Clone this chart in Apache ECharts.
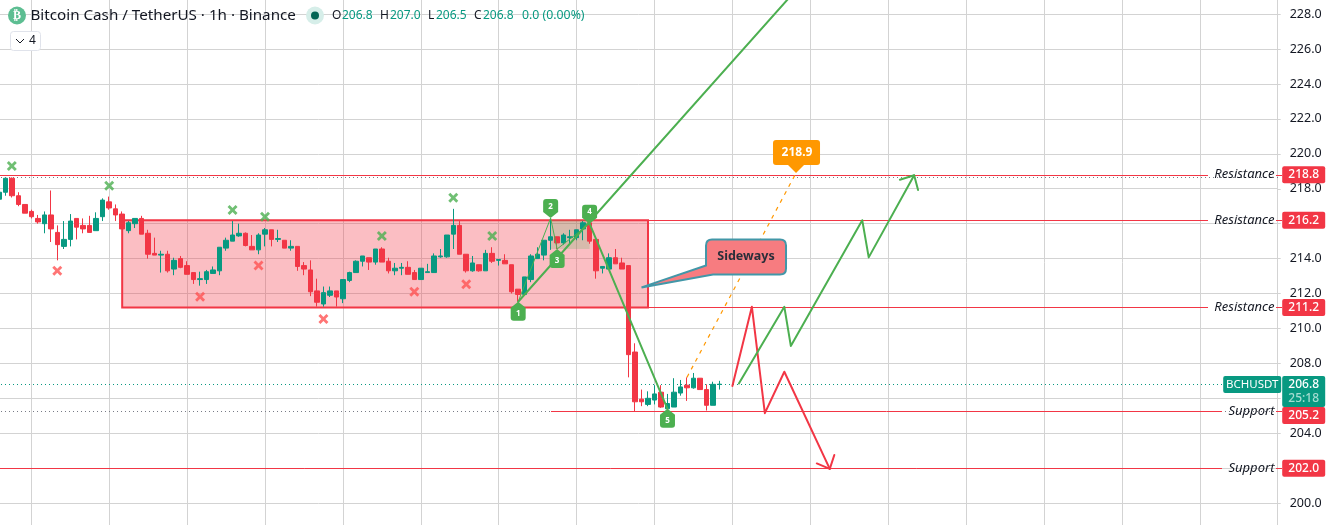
<!DOCTYPE html>
<html>
<head>
<meta charset="utf-8">
<style>html,body{margin:0;padding:0;background:#fff}#c{width:1333px;height:525px}</style>
<script src="https://cdn.jsdelivr.net/npm/echarts@6/dist/echarts.min.js"></script>
</head>
<body>
<div id="c"></div>
<script>
const firstHour = 7;
// [open, close, low, high] per hourly candle
const ohlc = [
[217.4,217.8,217.2,217.8],[217.8,218.6,217.6,218.6],[218.6,217.6,217.5,218.65],[217.6,217.1,217.0,217.8],
[217.1,216.6,216.6,217.1],[216.7,216.4,216.3,216.8],[216.3,216.1,216.0,216.5],[216.0,216.5,215.45,216.7],
[216.5,215.7,214.95,217.9],[215.5,214.8,213.9,215.9],[214.7,215.1,214.55,216.15],[215.1,216.15,214.7,216.55],
[216.3,215.8,215.1,216.3],[215.9,215.7,215.45,216.3],[215.9,215.5,215.5,216.45],[215.6,216.3,215.6,216.65],
[216.4,217.35,216.15,217.45],[217.25,216.9,216.8,217.55],[216.85,216.5,216.15,217.1],[216.55,215.7,215.7,216.7],
[215.6,216.05,215.45,216.15],[216.0,216.3,215.75,216.3],[216.3,215.4,215.4,216.45],[215.45,214.25,214.0,215.65],
[214.3,214.2,214.2,215.2],[214.2,214.25,213.2,214.45],[214.25,213.3,213.2,214.45],[213.4,213.9,213.05,214.05],
[214.0,213.5,213.45,214.15],[213.6,213.1,213.1,213.85],[213.2,212.8,212.55,213.2],[212.8,212.85,212.45,213.25],
[212.8,213.25,212.55,213.35],[213.15,213.35,213.15,213.55],[213.3,214.65,213.05,214.65],[214.6,215.05,214.45,215.2],
[215.0,215.35,215.0,216.15],[215.3,215.45,215.25,216.0],[215.45,214.75,214.7,215.5],[214.7,214.5,214.5,215.35],
[214.5,215.35,214.25,215.45],[215.4,215.65,214.7,215.75],[215.65,215.1,214.7,215.65],[215.1,215.15,214.95,215.65],
[215.05,214.6,214.6,215.05],[214.6,214.7,214.45,215.05],[214.7,213.55,213.3,214.7],[213.6,213.4,213.05,213.8],
[213.35,212.1,211.85,213.9],[212.15,211.5,211.25,212.85],[211.4,212.05,211.25,212.4],[211.9,212.15,211.8,212.4],
[212.15,211.8,211.25,212.15],[211.7,212.8,211.45,212.8],[212.75,213.2,212.65,213.25],[213.2,213.85,213.2,213.9],
[213.85,214.15,213.55,214.15],[214.05,213.8,213.35,214.05],[213.8,214.55,213.65,214.55],[214.55,213.8,213.8,214.65],
[213.85,213.3,213.15,214.05],[213.3,213.45,213.05,213.75],[213.45,213.5,213.05,213.75],[213.5,213.1,213.1,213.85],
[213.2,212.8,212.8,213.35],[212.8,213.45,212.8,213.45],[213.2,213.25,213.2,213.7],[213.2,214.15,213.2,214.3],
[214.1,214.15,214.05,214.55],[214.1,215.35,214.05,215.35],[215.4,215.9,214.55,216.85],[215.9,214.25,214.25,216.15],
[214.25,213.3,213.2,214.25],[213.3,213.75,213.25,214.15],[213.65,213.3,213.25,213.65],[213.3,214.3,213.3,214.5],
[214.3,213.85,213.75,214.65],[213.9,213.95,213.6,213.95],[213.9,213.7,213.7,214.25],[213.65,212.1,212.0,213.65],
[212.25,211.95,211.55,212.25],[211.95,212.95,211.95,212.95],[212.8,214.15,212.65,214.25],[214.0,214.25,214.0,214.65],
[214.2,215.05,213.9,215.05],[215.05,215.25,214.5,216.3],[215.25,214.9,214.55,215.25],[214.9,215.35,214.8,215.45],
[215.2,215.25,214.85,215.65],[215.2,215.65,215.05,215.65],[215.7,216.05,215.05,216.15],[216.05,215.0,214.85,216.05],
[215.1,213.3,212.85,215.1],[213.45,213.55,213.15,213.55],[213.4,214.05,213.4,214.3],[214.05,213.7,213.7,214.55],
[213.75,213.4,213.4,214.05],[213.6,208.5,207.2,213.6],[208.65,205.8,205.25,209.15],[205.95,205.8,205.55,206.5],
[205.65,206.0,205.55,206.4],[205.9,206.25,205.65,206.75],[206.35,205.5,205.45,206.75],[205.4,205.7,205.4,206.25],
[205.5,206.35,205.5,207.15],[206.3,206.65,206.15,207.05],[206.75,206.6,205.85,207.2],[206.6,207.15,206.55,207.45],
[207.15,206.5,206.5,207.15],[206.5,205.6,205.3,206.8],[205.6,206.8,205.6,206.95],[206.8,206.8,206.5,207.0]
];
const candleData = ohlc.map((r, i) => [firstHour + i, r[0], r[1], r[2], r[3]]);

const priceMin = 198, priceMax = 230, priceStep = 2;
const hourMin = 0, hourMax = 204, hourStep = 12;

const greenMarks = [[9,219.3],[24,218.17],[43,216.78],[48,216.4],[66,215.29],[77,217.49],[83,215.29]];
const redMarks = [[16,213.3],[38,211.82],[47,213.61],[57,210.54],[71,212.1],[79,212.53]];

const sidewaysBox = [[26,216.2,107,211.2]];
const patternZone = [[92,216.2,98,214.55]];

const waveTips = [[87,211.53],[92,216.32],[93,214.55],[98,216.0],[110,205.4]];
const waveUp = ['1','','3','','5'];
const waveNames = ['1','2','3','4','5'];
const waveThin = [[87,211.53],[92,216.32],[93,214.55],[98,216.0]];
const trendUp = [[87,211.53],[131,229.88]];
const trendDown = [[98,216.0],[110,205.4]];
const targetDash = [[113,207.2],[129.8,218.9]];
const targetPoint = [[129.8,218.9]];
const targetText = '218.9';
const redPath = [[120,206.7],[123,211.24],[125,205.15],[128,207.52],[135,201.96]];
const redHead = [[133,202.27],[135,201.96],[135.7,202.75]];
const greenPath = [[121,206.85],[128,211.24],[129,209.0],[140,216.2],[141,214.07],[148,218.77]];
const greenHead = [[145.8,218.52],[148,218.77],[148.6,217.93]];
const calloutTip = [[106,212.35]];

const levelPrices = [218.8,216.2,211.2,205.25,202.0];
const levelNames = ['Resistance','Resistance','Resistance','Support','Support'];
const levelStart = [0,107,107,92,0];
const levelGap = [193.3,193.3,193.3,195.4,195.4];
const tagCenters = [218.8,216.2,211.2,205.02,202.0];
const tagTexts = ['218.8','216.2','211.2','205.2','202.0'];
const lastPrice = 206.8, lastClock = '25:18', symbolName = 'BCHUSDT';
const dottedGrey = [218.65,205.25];

const RED = '#F23645', GREEN = '#089981', LINEGREEN = '#4CAF50', ORANGE = '#FF9800';
const FONT = '"Noto Sans", sans-serif';

function lineSeries(data, color, width, z, type) {
  return { type:'line', data, showSymbol:false, symbol:'none', clip:false, z, silent:true,
    lineStyle:{ color, width, type:type||'solid', cap:type?'butt':'round', join:'round' }, emphasis:{disabled:true} };
}
// one horizontal rule per row [xFrom, xTo, price], snapped to the pixel grid
function ruleSeries(rows, color, dash) {
  return { type:'custom', z:2, clip:false, silent:true, data:rows, encode:{x:[0,1],y:2},
    renderItem(p, api){
      const a = api.coord([api.value(0),api.value(2)]), b = api.coord([api.value(1),api.value(2)]);
      const y = Math.floor(a[1]+0.3)+0.5;
      return { type:'line', shape:{x1:Math.round(a[0]),y1:y,x2:Math.round(b[0]),y2:y}, style:{ stroke:color, lineWidth:1, lineDash:dash||null } };
    }};
}

const series = [];
// shaded boxes
series.push({ type:'custom', z:1, clip:false, silent:true, data:sidewaysBox, encode:{x:[0,2],y:[1,3]},
  renderItem(p, api){
    const a = api.coord([api.value(0),api.value(1)]), b = api.coord([api.value(2),api.value(3)]);
    return { type:'rect', shape:{x:a[0],y:a[1],width:b[0]-a[0],height:b[1]-a[1]},
      style:{ fill:'rgba(242,54,69,0.32)', stroke:RED, lineWidth:2 } };
  }});
series.push({ type:'custom', z:1, clip:false, silent:true, data:patternZone, encode:{x:[0,2],y:[1,3]},
  renderItem(p, api){
    const a = api.coord([api.value(0),api.value(1)]), b = api.coord([api.value(2),api.value(3)]);
    return { type:'rect', shape:{x:a[0],y:a[1],width:b[0]-a[0],height:b[1]-a[1]},
      style:{ fill:'rgba(76,175,80,0.2)' } };
  }});
// dotted price lines
series.push(ruleSeries(dottedGrey.map(p=>[hourMin,hourMax,p]), '#787b86', [1,3]));
series.push(ruleSeries([[hourMin,195.4,lastPrice]], GREEN, [1,3]));
// level lines
series.push(ruleSeries(levelPrices.map((p,i)=>[levelStart[i],levelGap[i],p]), RED));
series.push(ruleSeries(levelPrices.map(p=>[203.8,204.7,p]), RED));
// candles
series.push({ type:'candlestick', data:candleData, encode:{x:0,y:[1,2,3,4]}, barWidth:5, z:3, clip:false, silent:true,
  itemStyle:{ color:GREEN, color0:RED, borderColor:GREEN, borderColor0:RED, borderColorDoji:GREEN, borderWidth:1 } });
// drawings
series.push(lineSeries(waveThin, LINEGREEN, 1, 4));
series.push(lineSeries(trendUp, LINEGREEN, 2, 4));
series.push(lineSeries(trendDown, LINEGREEN, 2, 4));
series.push(lineSeries(targetDash, ORANGE, 1.2, 4, [4,5]));
series.push(lineSeries(redPath, RED, 2, 4));
series.push(lineSeries(redHead, RED, 2, 4));
series.push(lineSeries(greenPath, LINEGREEN, 2, 4));
series.push(lineSeries(greenHead, LINEGREEN, 2, 4));
// cross marks
const crossPath = 'path://M2 0L5 3L8 0L10 2L7 5L10 8L8 10L5 7L2 10L0 8L3 5L0 2Z';
series.push({ type:'scatter', data:greenMarks, symbol:crossPath, symbolSize:10, z:5, clip:false, silent:true, itemStyle:{color:LINEGREEN} });
series.push({ type:'scatter', data:redMarks, symbol:crossPath, symbolSize:10, z:5, clip:false, silent:true, itemStyle:{color:'#FF5252'} });
// wave labels
series.push({ type:'custom', z:6, clip:false, silent:true, data:waveTips,
  renderItem(p, api){
    const c = api.coord([api.value(0),api.value(1)]);
    const i = p.dataIndex, up = waveUp[i] !== '', s = up ? 1 : -1, h = 19, w = 7.5;
    const x = c[0], y = c[1];
    const d = `M${x} ${y}L${x+w} ${y+s*6}L${x+w} ${y+s*(h-3)}Q${x+w} ${y+s*h} ${x+w-3} ${y+s*h}L${x-w+3} ${y+s*h}Q${x-w} ${y+s*h} ${x-w} ${y+s*(h-3)}L${x-w} ${y+s*6}Z`;
    return { type:'group', children:[
      { type:'path', shape:{pathData:d}, style:{fill:LINEGREEN} },
      { type:'text', style:{ x, y:y+s*11.5, text:waveNames[i], fill:'#fff', font:'bold 8px '+FONT, align:'center', verticalAlign:'middle' } }
    ]};
  }});
// target label
series.push({ type:'custom', z:6, clip:false, silent:true, data:targetPoint,
  renderItem(p, api){
    const c = api.coord([api.value(0),api.value(1)]);
    const x = c[0], y = c[1], L = x-23, R = x+24, T = y-33, B = y-8;
    const d = `M${x} ${y}L${x-8} ${B}L${L+3} ${B}Q${L} ${B} ${L} ${B-3}L${L} ${T+3}Q${L} ${T} ${L+3} ${T}L${R-3} ${T}Q${R} ${T} ${R} ${T+3}L${R} ${B-3}Q${R} ${B} ${R-3} ${B}L${x+8} ${B}Z`;
    return { type:'group', children:[
      { type:'path', shape:{pathData:d}, style:{fill:ORANGE} },
      { type:'text', style:{ x:x+1, y:(T+B)/2, text:targetText, fill:'#fff', font:'bold 12px '+FONT, align:'center', verticalAlign:'middle' } }
    ]};
  }});
// callout
series.push({ type:'custom', z:6, clip:false, silent:true, data:calloutTip,
  renderItem(p, api){
    const c = api.coord([api.value(0),api.value(1)]);
    const x = c[0], y = c[1], L = x+64.5, R = x+144.5, T = y-48, B = y-13;
    const d = `M${x} ${y}L${L} ${y-22}L${L} ${T+6}Q${L} ${T} ${L+6} ${T}L${R-6} ${T}Q${R} ${T} ${R} ${T+6}L${R} ${B-6}Q${R} ${B} ${R-6} ${B}L${L+7} ${B}Z`;
    return { type:'group', children:[
      { type:'path', shape:{pathData:d}, style:{fill:'#F77C80', stroke:'#4297A8', lineWidth:2} },
      { type:'text', style:{ x:(L+R)/2, y:(T+B)/2, text:'Sideways', fill:'#2a2e39', font:'bold 12.5px '+FONT, align:'center', verticalAlign:'middle' } }
    ]};
  }});
// level names
series.push({ type:'custom', z:7, clip:false, silent:true, data:levelPrices.map(p=>[203.5,p]),
  renderItem(p, api){
    const c = api.coord([api.value(0),api.value(1)]);
    return { type:'text', style:{ x:c[0], y:c[1], text:levelNames[p.dataIndex], fill:'#131722', font:'italic 13px '+FONT, align:'right', verticalAlign:'middle' } };
  }});
// price tags on the axis
series.push({ type:'custom', z:10, clip:false, silent:true, data:tagCenters.map(p=>[hourMax,p]),
  renderItem(p, api){
    const c = api.coord([api.value(0),api.value(1)]);
    const x = c[0]+4.5, y = c[1];
    return { type:'group', children:[
      { type:'rect', shape:{x, y:y-8.5, width:43, height:17, r:2}, style:{fill:RED} },
      { type:'text', style:{ x:x+21.5, y:y, text:tagTexts[p.dataIndex], fill:'#fff', font:'500 12px '+FONT, align:'center', verticalAlign:'middle' } }
    ]};
  }});
series.push({ type:'custom', z:9, clip:false, silent:true, data:[[hourMax,lastPrice]],
  renderItem(p, api){
    const c = api.coord([api.value(0),api.value(1)]);
    const x = c[0], y = c[1];
    return { type:'group', children:[
      { type:'rect', shape:{x:x-54.5, y:y-8.3, width:58, height:17, r:2}, style:{fill:GREEN} },
      { type:'text', style:{ x:x-25.5, y:y+0.2, text:symbolName, fill:'#fff', font:'11.5px '+FONT, align:'center', verticalAlign:'middle' } },
      { type:'rect', shape:{x:x+4.5, y:y-8.3, width:43, height:31, r:2}, style:{fill:GREEN} },
      { type:'text', style:{ x:x+26, y:y+0.2, text:lastPrice.toFixed(1), fill:'#fff', font:'500 12px '+FONT, align:'center', verticalAlign:'middle' } },
      { type:'text', style:{ x:x+26, y:y+14.5, text:lastClock, fill:'#a5dcd1', font:'500 12px '+FONT, align:'center', verticalAlign:'middle' } }
    ]};
  }});

const gridColor = '#d3d3d3';
const chart = echarts.init(document.getElementById('c'), null, {renderer:'canvas'});
const hdrY = 15.5, hdrFont = '15.2px '+FONT, valFont = '12px '+FONT;
function hdr(x, text, fill, font){ return { type:'text', x, y:hdrY, z:20, style:{ text, fill, font, verticalAlign:'middle' } }; }
chart.setOption({
  animation:false,
  backgroundColor:'#ffffff',
  grid:{ left:-46.6, top:-20.8, width:1324.3, height:558.8, containLabel:false, outerBoundsMode:'none' },
  xAxis:{ type:'value', min:hourMin, max:hourMax, interval:hourStep, axisLabel:{show:false}, axisTick:{show:false}, axisLine:{show:false},
    splitLine:{show:true, lineStyle:{color:gridColor, width:1}} },
  yAxis:{ type:'value', position:'right', min:priceMin, max:priceMax, interval:priceStep,
    axisLine:{show:true, onZero:false, lineStyle:{color:gridColor}}, axisTick:{show:true, length:3, lineStyle:{color:gridColor}},
    axisLabel:{ color:'#131722', fontFamily:'"Noto Sans", sans-serif', fontSize:12.5, margin:12, formatter:v=>v.toFixed(1) },
    splitLine:{show:true, lineStyle:{color:gridColor, width:1}} },
  series,
  graphic:[
    { type:'circle', z:20, shape:{cx:17,cy:hdrY,r:9}, style:{fill:'#5DBE92'} },
    { type:'text', x:17, y:hdrY, z:21, style:{ text:'₿', fill:'#fff', font:'bold 12px "DejaVu Sans"', align:'center', verticalAlign:'middle' } },
    hdr(30.5, 'Bitcoin Cash / TetherUS · 1h · Binance', '#131722', hdrFont),
    { type:'circle', z:20, shape:{cx:315,cy:hdrY,r:9}, style:{fill:'#d6eee9'} },
    { type:'circle', z:21, shape:{cx:315,cy:hdrY,r:4}, style:{fill:'#056656'} },
    hdr(332,'O','#131722',valFont), hdr(342,'206.8',GREEN,valFont),
    hdr(380,'H','#131722',valFont), hdr(390,'207.0',GREEN,valFont),
    hdr(428,'L','#131722',valFont), hdr(436,'206.5',GREEN,valFont),
    hdr(474,'C','#131722',valFont), hdr(483,'206.8',GREEN,valFont),
    hdr(522,'0.0 (0.00%)',GREEN,'12.3px '+FONT),
    { type:'rect', z:20, shape:{x:10.5,y:31.5,width:30,height:19,r:3}, style:{fill:'#fff',stroke:'#e0e3eb',lineWidth:1} },
    { type:'polyline', z:21, shape:{points:[[16,39],[20,43],[24,39]]}, style:{stroke:'#131722',lineWidth:1,fill:null} },
    { type:'text', x:29, y:41, z:21, style:{ text:'4', fill:'#131722', font:'12px '+FONT, verticalAlign:'middle' } }
  ]
});
</script>
</body>
</html>
